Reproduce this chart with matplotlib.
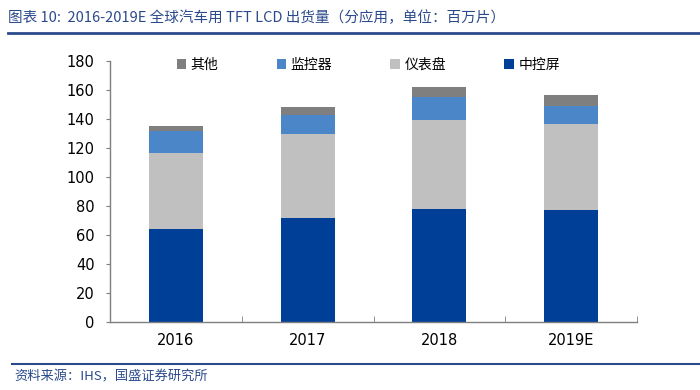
import matplotlib.pyplot as plt
import numpy as np

plt.rcParams['font.family'] = ['DejaVu Sans', 'Noto Sans CJK SC']

years = ['2016', '2017', '2018', '2019E']
# 百万片
center_screen = [64, 72, 78, 77]      # 中控屏
dashboard = [52.5, 57.5, 61, 59.5]    # 仪表盘
monitor = [15, 13.5, 16.5, 12.5]      # 监控器
other = [4, 5.5, 6.5, 7.5]            # 其他

series_names = ['中控屏', '仪表盘', '监控器', '其他']
series_colors = ['#003F98', '#C0C0C0', '#4A86C8', '#7F7F7F']

fig = plt.figure(figsize=(7, 3.9), dpi=100)
ax = fig.add_axes([110 / 700, 1 - 322 / 390, 527 / 700, 261 / 390])

x = np.arange(len(years))
bottom = np.zeros(len(years))
bars = {}
for name, vals, col in zip(series_names, [center_screen, dashboard, monitor, other], series_colors):
    bars[name] = ax.bar(x, vals, width=0.41, bottom=bottom, color=col, label=name)
    bottom += np.array(vals)

ax.set_xlim(-0.5, len(years) - 0.5)
ax.set_ylim(0, 180)
ax.set_yticks(np.arange(0, 181, 20))
ax.set_xticks(x)
ax.set_xticklabels(years)
ax.set_xticks(np.arange(0.5, len(years) - 0.4, 1), minor=True)

for s in ['top', 'right']:
    ax.spines[s].set_visible(False)
for s in ['left', 'bottom']:
    ax.spines[s].set_color('#7F7F7F')
    ax.spines[s].set_linewidth(1)

ax.tick_params(axis='y', direction='out', length=3, color='#7F7F7F', labelsize=10.5, pad=8)
ax.tick_params(axis='x', which='major', length=0, labelsize=10.5, pad=8)
ax.tick_params(axis='x', which='minor', direction='in', length=4, color='#7F7F7F')

# legend order: 其他, 监控器, 仪表盘, 中控屏
order = ['其他', '监控器', '仪表盘', '中控屏']
leg = ax.legend([bars[n] for n in order], order, ncol=4, frameon=False,
                loc='center', bbox_to_anchor=(0.49, 0.985),
                handlelength=0.7, handleheight=0.7, handletextpad=0.3,
                columnspacing=4.2, prop={'family': ['Noto Sans CJK SC'], 'size': 10})

title_color = '#2B4A8B'
fig.text(8 / 700, 1 - 18 / 390,
         '图表 10:  2016-2019E 全球汽车用 TFT LCD 出货量（分应用，单位：百万片）',
         fontsize=10.5, color=title_color, ha='left', va='center',
         family=['Noto Sans CJK SC'])
fig.add_artist(plt.Line2D([8 / 700, 1.0], [1 - 33 / 390] * 2, color='#2B4A8B', lw=2))
fig.add_artist(plt.Line2D([12 / 700, 1.0], [1 - 364 / 390] * 2, color='#2B4A8B', lw=1.5))
fig.text(14 / 700, 1 - 377 / 390, '资料来源：IHS，国盛证券研究所',
         fontsize=9.5, color=title_color, ha='left', va='center',
         family=['Noto Sans CJK SC'])

fig.savefig('out.png', dpi=100)
